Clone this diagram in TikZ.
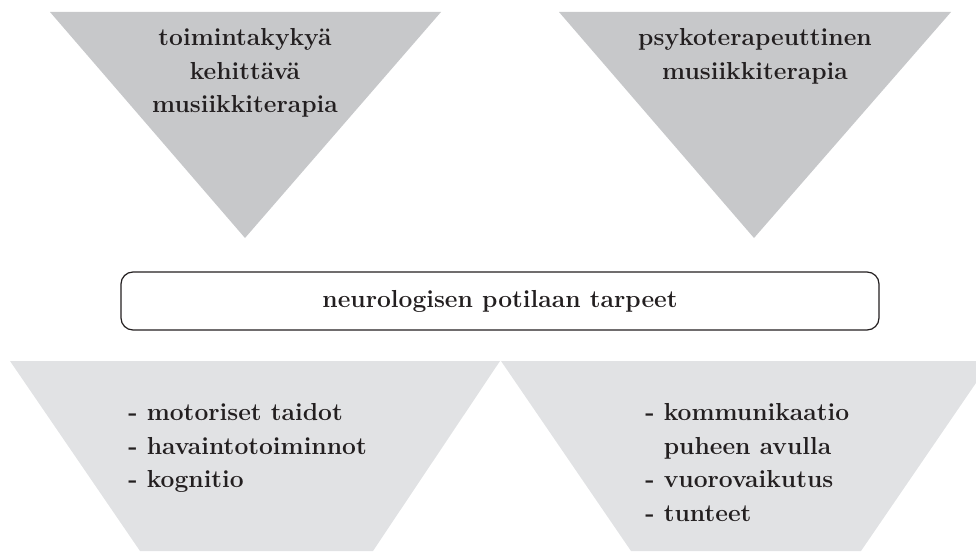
\documentclass[tikz,border=0pt]{standalone}
\usetikzlibrary{positioning}
\definecolor{topgray}{RGB}{199,200,202}
\definecolor{lowgray}{RGB}{225,226,228}
\definecolor{inkblack}{RGB}{35,31,32}
\begin{document}
\begin{tikzpicture}[
        lbl/.style={font=\fontsize{14}{19.2}\selectfont\bfseries, text=inkblack, inner sep=0pt},
        needbox/.style={draw=inkblack, line width=0.7pt, rounded corners=0.24cm,
            minimum width=15.16cm, minimum height=1.16cm, inner sep=0pt}
    ]
        \useasboundingbox (0,0) rectangle (19.52,11.02);

        % Upper triangles
        \fill[topgray] (1.0,10.78) -- (8.82,10.78) -- (4.9,6.26) -- cycle;
        \fill[topgray] (11.18,10.78) -- (19.02,10.78) -- (15.08,6.26) -- cycle;

        % Lower triangles, cut off at the bottom edge
        \begin{scope}
            \clip (0,0) rectangle (19.52,11.02);
            \fill[lowgray] (0.2,3.8) -- (10.0,3.8) -- (7.46,0) -- (2.8,0) -- cycle;
            \fill[lowgray] (10.02,3.8) -- (19.82,3.8) -- (17.22,0) -- (12.62,0) -- cycle;
        \end{scope}

        \node[lbl, align=center, anchor=north] (kehittava) at (4.9,10.46)
            {toimintakykyä\\kehittävä\\musiikkiterapia};
        \node[lbl, align=center, anchor=north] (psyko) at (15.1,10.46)
            {psykoterapeuttinen\\musiikkiterapia};

        \node[lbl, needbox] (tarpeet) at (10,5.0) {neurologisen potilaan tarpeet};

        \node[lbl, align=left, anchor=north west] (taidot) at (2.56,2.96)
            {- motoriset taidot\\- havaintotoiminnot\\- kognitio};
        \node[lbl, align=left, anchor=north west] (vuoro) at (12.9,2.96)
            {- kommunikaatio\\\phantom{- }puheen avulla\\- vuorovaikutus\\- tunteet};
    \end{tikzpicture}
\end{document}
